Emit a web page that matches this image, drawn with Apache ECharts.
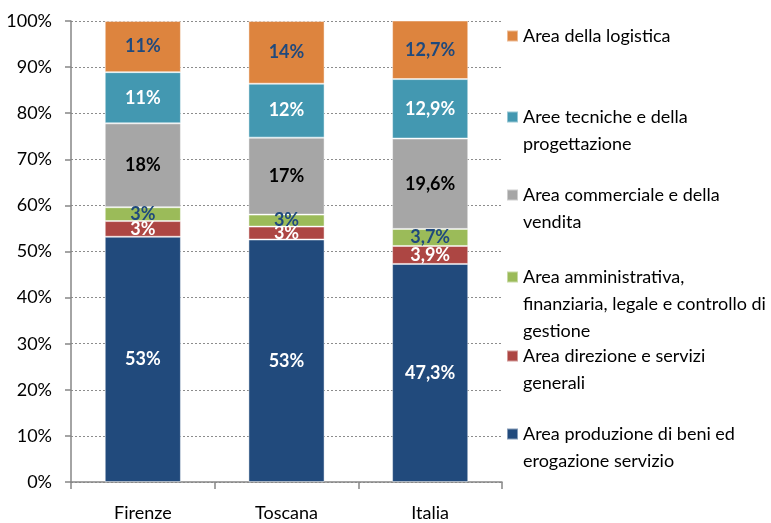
<!DOCTYPE html>
<html>
<head>
<meta charset="utf-8">
<script src="https://cdn.jsdelivr.net/npm/echarts@6/dist/echarts.min.js"></script>
<style>
html,body{margin:0;padding:0;background:#fff;}
#chart{width:771px;height:523px;}
</style>
</head>
<body>
<div id="chart"></div>
<script>
// ---- data ----
var categories = ['Firenze', 'Toscana', 'Italia'];
var labelDecimals = [0, 0, 1];
var seriesNames = [
  'Area produzione di beni ed erogazione servizio',
  'Area direzione e servizi generali',
  'Area amministrativa, finanziaria, legale e controllo di gestione',
  'Area commerciale e della vendita',
  'Aree tecniche e della progettazione',
  'Area della logistica'
];
var legendLines = [
  ['Area produzione di beni ed', 'erogazione servizio'],
  ['Area direzione e servizi', 'generali'],
  ['Area amministrativa,', 'finanziaria, legale e controllo di', 'gestione'],
  ['Area commerciale e della', 'vendita'],
  ['Aree tecniche e della', 'progettazione'],
  ['Area della logistica']
];
var produzione     = [53.2, 52.6, 47.3];
var direzione      = [3.4, 2.8, 3.9];
var amministrativa = [3.0, 2.6, 3.7];
var commerciale    = [18.2, 16.7, 19.6];
var tecniche       = [11.1, 11.7, 12.9];
var logistica      = [11.1, 13.6, 12.7];
var yTicks = [0, 10, 20, 30, 40, 50, 60, 70, 80, 90, 100];

// ---- style ----
var values = [produzione, direzione, amministrativa, commerciale, tecniche, logistica];
var colors = ['#214A7C', '#AD4643', '#9BBB59', '#A6A6A6', '#4398B1', '#DD843E'];
var labelColors = ['#FFFFFF', '#FFFFFF', '#1F497D', '#000000', '#FFFFFF', '#1F497D'];
var FONT = 'Lato';
var LH = 27;
var legendIconY = [434, 356, 277, 195, 117, 36];

var chart = echarts.init(document.getElementById('chart'), null, {renderer: 'canvas'});

var series = seriesNames.map(function (name, i) {
  return {
    name: name,
    type: 'bar',
    stack: 'total',
    barWidth: '53%',
    data: values[i],
    itemStyle: {color: colors[i], borderColor: 'rgba(255,255,255,0.45)', borderWidth: 1},
    label: {
      show: true,
      position: 'inside',
      fontFamily: FONT,
      fontWeight: 'bold',
      fontSize: 18,
      color: labelColors[i],
      formatter: function (p) {
        var d = labelDecimals[p.dataIndex];
        return p.value.toFixed(d).replace('.', ',') + '%';
      }
    },
    emphasis: {disabled: true}
  };
});

var legends = seriesNames.map(function (name, i) {
  var n = legendLines[i].length;
  return {
    data: [name],
    left: 506,
    top: legendIconY[i] - (2 * n - 1) * LH / 2,
    padding: 0,
    itemWidth: 11,
    itemHeight: 11,
    icon: 'rect',
    selectedMode: false,
    textStyle: {fontFamily: FONT, fontSize: 18, color: '#000', lineHeight: LH},
    formatter: function () {
      var lines = legendLines[i];
      var pad = [];
      for (var k = 0; k < lines.length - 1; k++) pad.push('');
      return pad.concat(lines).join('\n');
    }
  };
});

chart.setOption({
  animation: false,
  backgroundColor: '#fff',
  grid: {left: 71, top: 21, width: 431, height: 461, containLabel: false},
  legend: legends,
  xAxis: {
    type: 'category',
    data: categories,
    axisLine: {lineStyle: {color: '#868686', width: 1.5}},
    axisTick: {show: true, length: 7, lineStyle: {color: '#868686', width: 1.5}},
    axisLabel: {fontFamily: FONT, fontSize: 18, color: '#000', margin: 22}
  },
  yAxis: {
    type: 'value',
    min: yTicks[0],
    max: yTicks[yTicks.length - 1],
    interval: yTicks[1] - yTicks[0],
    axisLine: {show: true, lineStyle: {color: '#868686', width: 1.5}},
    axisTick: {show: true, length: 6, lineStyle: {color: '#868686', width: 1.5}},
    axisLabel: {fontFamily: FONT, fontSize: 18, color: '#000', margin: 19, formatter: '{value}%'},
    splitLine: {show: true, lineStyle: {color: '#8C8C8C', type: [2, 2], width: 1}}
  },
  series: series
});
</script>
</body>
</html>
